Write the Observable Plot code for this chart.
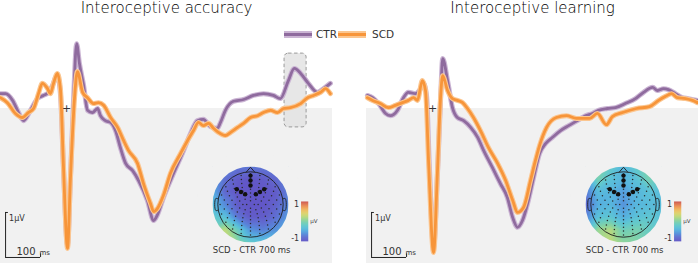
<!DOCTYPE html>
<html>
<head>
<meta charset="utf-8">
<script src="https://cdn.jsdelivr.net/npm/d3@7"></script>
<script src="https://cdn.jsdelivr.net/npm/@observablehq/plot@0.6"></script>
<style>
  body { margin: 0; background: #fff; }
  #root { position: relative; width: 698px; height: 263px; overflow: hidden; font-family: "DejaVu Sans", sans-serif; color: #333; }
  #root > * { position: absolute; }
</style>
</head>
<body>
<div id="root"></div>
<script>
// ---------------- data ----------------
const panelTitles = ["Interoceptive accuracy", "Interoceptive learning"];
const groupNames = ["CTR", "SCD"];

// Interoceptive accuracy – CTR
const accCtrMs = [-189,-174,-154,-137,-123,-103,-83,-66,-51,-40,-31,-26,-17,-9,3,11,20,29,37,49,60,74,89,97,111,126,140,154,169,189,206,231,249,260,277,306,331,354,374,391,411,431,440,454,477,506,534,563,591,611,634,651,669,691,717,734,754];
const accCtrUv = [0.33,0.33,0.18,-0.09,-0.27,-0.04,0.22,0.29,0.36,0.51,0.69,0.73,0.29,-1.27,-3.04,-1.6,0.18,1.44,1.0,0.51,-0.04,-0.09,0,-0.16,-0.27,-0.31,-0.49,-0.87,-1.22,-1.38,-1.6,-2.04,-2.49,-2.36,-1.98,-1.44,-1.0,-0.56,-0.27,-0.24,-0.4,-0.44,-0.31,-0.04,0.16,0.2,0.29,0.33,0.29,0.22,0.62,0.89,0.78,0.56,0.36,0.44,0.56];
// Interoceptive accuracy – SCD
const accScdMs = [-189,-169,-146,-126,-109,-94,-80,-69,-54,-46,-37,-26,-17,-9,3,11,23,31,46,60,77,91,106,126,146,163,177,203,220,240,249,260,277,297,326,346,363,377,391,406,420,434,454,469,489,506,526,546,563,583,603,620,640,669,689,706,726,740,754];
const accScdUv = [0.24,0.13,-0.11,-0.2,-0.09,0,0.33,0.56,0.44,0.33,0.56,0.78,0.4,-1.22,-3.11,-1.6,0.24,0.82,0.36,0.24,0.11,0.13,0.07,-0.2,-0.42,-0.71,-0.93,-1.22,-1.67,-2.11,-2.29,-2.22,-1.93,-1.44,-1.0,-0.71,-0.49,-0.31,-0.38,-0.33,-0.44,-0.53,-0.6,-0.53,-0.42,-0.33,-0.2,-0.16,-0.09,-0.04,-0.09,0,0.02,0.11,0.24,0.29,0.36,0.44,0.33];
// Interoceptive learning – CTR
const lrnCtrMs = [-186,-171,-154,-134,-120,-100,-83,-69,-49,-34,-26,-17,-9,3,14,23,29,43,57,71,89,109,129,146,171,194,214,229,243,257,274,289,306,323,343,366,389,414,437,457,474,500,523,551,580,603,629,643,660,674,694,714,731,757];
const lrnCtrUv = [0.29,0.24,0.11,-0.11,-0.16,-0.04,0.24,0.36,0.33,0.44,0.56,0.29,-1.27,-3.09,-1.49,0.18,1.11,0.62,0.02,-0.2,-0.27,-0.42,-0.64,-0.93,-1.31,-1.67,-1.98,-2.42,-2.64,-2.49,-2.04,-1.53,-1.0,-0.78,-0.64,-0.49,-0.38,-0.27,-0.16,-0.11,-0.04,0,0.02,0.11,0.22,0.36,0.47,0.4,0.44,0.42,0.33,0.24,0.22,0.18];
// Interoceptive learning – SCD
const lrnScdMs = [-186,-171,-149,-126,-106,-86,-69,-54,-43,-29,-20,-11,3,14,23,29,43,57,71,86,100,117,137,160,186,209,229,243,260,280,294,306,326,354,383,411,449,471,497,514,543,583,620,646,666,683,700,723,743,757];
const lrnScdUv = [0.24,0.18,0.11,0.02,0.07,0.13,0.18,0.24,0.18,0.62,0.4,-1.22,-3.2,-1.44,0.24,0.73,0.4,0.22,0.18,0.13,0,-0.2,-0.49,-0.87,-1.22,-1.6,-2.04,-2.31,-2.2,-1.6,-1.16,-0.82,-0.42,-0.2,-0.16,-0.22,-0.22,-0.11,-0.36,-0.18,-0.09,0,0.04,0.18,0.27,0.33,0.24,0.22,0.18,0.13];

// highlighted window (accuracy panel)
const highlightMs = [623, 686];
const highlightUv = [-0.42, 1.22];

// scale bar
const scaleBarMs = 100;
const scaleBarUv = 1;

// topographies: SCD - CTR difference at 700 ms, 7x7 grid rows top -> bottom
const topoAxis = [-1, -2/3, -1/3, 0, 1/3, 2/3, 1];
const accTopo = [
  [-0.55,-0.65,-0.75,-0.75,-0.75,-0.7,-0.6],
  [-0.5,-0.8,-0.95,-1.0,-0.95,-0.85,-0.65],
  [-0.45,-0.85,-1.0,-1.0,-1.0,-0.95,-0.7],
  [-0.35,-0.65,-0.95,-1.0,-1.0,-0.9,-0.65],
  [-0.2,-0.3,-0.75,-0.95,-0.95,-0.8,-0.55],
  [0.0,0.25,-0.15,-0.6,-0.7,-0.6,-0.45],
  [0.05,0.2,0.05,-0.2,-0.3,-0.35,-0.35]
];
const lrnTopo = [
  [-0.35,0.0,-0.2,-0.4,-0.2,0.0,-0.3],
  [-0.55,-0.05,-0.3,-0.4,-0.3,-0.05,-0.35],
  [-0.75,-0.35,-0.4,-0.55,-0.4,-0.3,-0.35],
  [-0.85,-0.45,-0.4,-0.6,-0.4,-0.35,-0.35],
  [-0.7,-0.3,-0.25,-0.45,-0.3,-0.25,-0.3],
  [-0.4,0.1,0.2,-0.1,-0.05,-0.15,-0.2],
  [-0.2,0.1,0.25,0.05,0.0,-0.1,-0.2]
];
const topoLabel = "SCD - CTR 700 ms";
const colorbarTicks = ["1", "-1"];
const colorbarUnit = "μV";

// electrode montage (rings of sensors) and highlighted cluster
const ringRadius = [0.1, 0.2, 0.3, 0.4, 0.5, 0.6, 0.7, 0.8];
const ringCount = [4, 8, 10, 12, 14, 16, 18, 20];
const clusterX = [0, 0, 0, -0.36, -0.25, -0.14, 0.14, 0.25, 0.36];
const clusterY = [0.76, 0.63, 0.5, 0.4, 0.33, 0.27, 0.27, 0.33, 0.4];

// ---------------- style / layout ----------------
const mainColor = ["#8f6b9e", "#f7953a"];
const haloColor = ["#cbb5d4", "#fbc690"];
const bgGray = "#f1f1f1";
const topoColors = ["#5a4fc4","#5a66d0","#4a8edc","#4fb6e0","#58c8cc","#78d0a4","#b0d878","#e2d666","#f2b457","#ec834a","#c84c48"];

const W = 698, H = 263, panelW = 332;
const panelLeft = [0, 366];
const pxPerMs = 0.35, pxPerUv = 45, zeroX = 66, zeroY = 108;
const xDomain = [-zeroX / pxPerMs, (panelW - zeroX) / pxPerMs];
const yDomain = [-(H - zeroY) / pxPerUv, zeroY / pxPerUv];

const root = document.getElementById("root");

function panel(i) {
  const series = i === 0
    ? [[accCtrMs, accCtrUv], [accScdMs, accScdUv]]
    : [[lrnCtrMs, lrnCtrUv], [lrnScdMs, lrnScdUv]];
  const marks = [
    Plot.rect([{x1: xDomain[0], x2: xDomain[1], y1: yDomain[0], y2: 0}], {x1: "x1", x2: "x2", y1: "y1", y2: "y2", fill: bgGray})
  ];
  if (i === 0) {
    marks.push(Plot.rect([{x1: highlightMs[0], x2: highlightMs[1], y1: highlightUv[0], y2: highlightUv[1]}],
      {x1: "x1", x2: "x2", y1: "y1", y2: "y2", fill: "#e3e3e3", fillOpacity: 0.85, stroke: "#9a9a9a", strokeDasharray: "3.5,2.5", strokeWidth: 1, rx: 4}));
  }
  series.forEach(([ms, uv], g) => {
    const d = ms.map((t, k) => ({t, v: uv[k]}));
    marks.push(Plot.line(d, {x: "t", y: "v", stroke: haloColor[g], strokeWidth: 5, curve: "monotone-x", strokeLinejoin: "round"}));
    marks.push(Plot.line(d, {x: "t", y: "v", stroke: mainColor[g], strokeWidth: 2.8, curve: "monotone-x", strokeLinejoin: "round"}));
  });
  // origin marker
  marks.push(Plot.text([{t: 0, v: 0, s: "+"}], {x: "t", y: "v", text: "s", fontSize: 11, fill: "#333"}));
  // scale bars
  const sx = xDomain[0] + 14.5, sy = yDomain[0] + 0.134;
  marks.push(Plot.ruleX([{x: sx, y1: sy, y2: sy + scaleBarUv}], {x: "x", y1: "y1", y2: "y2", stroke: "#222", strokeWidth: 1}));
  marks.push(Plot.ruleY([{y: sy, x1: sx, x2: sx + scaleBarMs}], {y: "y", x1: "x1", x2: "x2", stroke: "#222", strokeWidth: 1}));
  marks.push(Plot.ruleY([{y: sy + scaleBarUv, x1: sx, x2: sx + 8}], {y: "y", x1: "x1", x2: "x2", stroke: "#222", strokeWidth: 1}));
  marks.push(Plot.ruleX([{x: sx + scaleBarMs, y1: sy, y2: sy + 0.08}], {x: "x", y1: "y1", y2: "y2", stroke: "#222", strokeWidth: 1}));
  marks.push(Plot.text([{x: sx + 10, y: sy + 0.87, s: scaleBarUv + "μV"}], {x: "x", y: "y", text: "s", textAnchor: "start", fontSize: 8, fill: "#333"}));
  marks.push(Plot.text([{x: sx + 31, y: sy + 0.06, s: String(scaleBarMs)}], {x: "x", y: "y", text: "s", textAnchor: "start", lineAnchor: "bottom", fontSize: 10, fill: "#333"}));
  marks.push(Plot.text([{x: sx + 97, y: sy + 0.06, s: "ms"}], {x: "x", y: "y", text: "s", textAnchor: "start", lineAnchor: "bottom", fontSize: 7, fill: "#333"}));
  // title
  marks.push(Plot.text([panelTitles[i]], {frameAnchor: "top", text: d => d, dy: 8, lineAnchor: "middle", fontSize: 15, fontWeight: 300, fill: "#000"}));

  const svg = Plot.plot({
    width: panelW, height: H, margin: 0,
    x: {domain: xDomain, axis: null},
    y: {domain: yDomain, axis: null},
    style: {background: "transparent", fontFamily: "DejaVu Sans, sans-serif", overflow: "visible"},
    marks
  });
  svg.style.left = panelLeft[i] + "px";
  svg.style.top = "0px";
  root.appendChild(svg);
}

// topography
const topoPx = 38, topoW = 120, topoH = 96, topoCx = 45, topoCy = 44;
const topoCenters = [[250, 204], [623, 204]];
function electrodes() {
  const out = [];
  ringRadius.forEach((r, k) => {
    const n = ringCount[k];
    for (let j = 0; j < n; ++j) {
      const a = Math.PI / 2 + (2 * Math.PI * j) / n;
      out.push({x: r * Math.cos(a), y: r * Math.sin(a)});
    }
  });
  return out;
}
function topo(i) {
  const grid = i === 0 ? accTopo : lrnTopo;
  const cells = [];
  grid.forEach((row, r) => row.forEach((v, c) => cells.push({x: topoAxis[c], y: topoAxis[6 - r], v})));
  const cluster = clusterX.map((x, k) => ({x, y: clusterY[k]}));
  const cbX = [1.33, 1.52], cbY = [-0.97, 0.08];
  const head = 0.86;
  const nose = [{x: -0.11, y: head - 0.005}, {x: 0, y: 0.98}, {x: 0.11, y: head - 0.005}];
  const earL = [{x: -0.855, y: 0.15}, {x: -0.91, y: 0.16}, {x: -0.935, y: 0.1}, {x: -0.935, y: -0.1}, {x: -0.91, y: -0.16}, {x: -0.855, y: -0.15}];
  const earR = earL.map(p => ({x: -p.x, y: p.y}));
  const svg = Plot.plot({
    width: topoW, height: topoH, margin: 0,
    x: {domain: [-topoCx / topoPx, (topoW - topoCx) / topoPx], axis: null},
    y: {domain: [-(topoH - topoCy) / topoPx, topoCy / topoPx], axis: null},
    color: {type: "linear", domain: [-1, 1], interpolate: d3.interpolateRgbBasis(topoColors)},
    style: {background: "transparent", fontFamily: "DejaVu Sans, sans-serif", overflow: "visible"},
    marks: [
      Plot.raster(cells, {x: "x", y: "y", fill: "v", interpolate: "barycentric", x1: -1, x2: 1, y1: -1, y2: 1, pixelSize: 1, opacity: 0.95}),
      Plot.dot([{x: 0, y: 0}], {x: "x", y: "y", r: 46, fill: "none", stroke: bgGray, strokeWidth: 16}),
      Plot.dot([{x: 0, y: 0}], {x: "x", y: "y", r: head * topoPx, fill: "none", stroke: "#1e1e1e", strokeWidth: 0.9}),
      Plot.line(nose, {x: "x", y: "y", stroke: "#1e1e1e", strokeWidth: 0.9}),
      Plot.line(earL, {x: "x", y: "y", stroke: "#1e1e1e", strokeWidth: 0.9, curve: "catmull-rom"}),
      Plot.line(earR, {x: "x", y: "y", stroke: "#1e1e1e", strokeWidth: 0.9, curve: "catmull-rom"}),
      Plot.dot(electrodes(), {x: "x", y: "y", r: 0.75, fill: "#2a2a2a"}),
      Plot.dot(cluster, {x: "x", y: "y", r: 2.2, fill: "#111"}),
      Plot.raster({fill: (x, y) => -1 + 2 * (y - cbY[0]) / (cbY[1] - cbY[0]), x1: cbX[0], x2: cbX[1], y1: cbY[0], y2: cbY[1], pixelSize: 1, opacity: 0.92}),
      Plot.text([{x: cbX[0] - 0.05, y: cbY[1] - 0.08, s: colorbarTicks[0]}], {x: "x", y: "y", text: "s", textAnchor: "end", fontSize: 8, fill: "#333"}),
      Plot.text([{x: cbX[0] - 0.05, y: cbY[0] + 0.08, s: colorbarTicks[1]}], {x: "x", y: "y", text: "s", textAnchor: "end", fontSize: 8, fill: "#333"}),
      Plot.text([{x: cbX[1] + 0.05, y: (cbY[0] + cbY[1]) / 2, s: colorbarUnit}], {x: "x", y: "y", text: "s", textAnchor: "start", fontSize: 5.5, fill: "#444"}),
      Plot.text([{x: 0.03, y: -1.2, s: topoLabel}], {x: "x", y: "y", text: "s", fontSize: 8.5, fill: "#333"})
    ]
  });
  svg.style.left = (topoCenters[i][0] - topoCx) + "px";
  svg.style.top = (topoCenters[i][1] - topoCy) + "px";
  root.appendChild(svg);
}

panel(0); panel(1);
topo(0); topo(1);

// legend
const legendSwatchX = [284, 338], legendTextX = [316, 372], legendY = 34;
groupNames.forEach((name, g) => {
  const sw = document.createElement("div");
  sw.style.cssText = `left:${legendSwatchX[g]}px;top:${legendY - 3.5}px;width:28px;height:7px;background:${haloColor[g]};`;
  const inner = document.createElement("div");
  inner.style.cssText = `margin-top:2px;height:3px;background:${mainColor[g]};`;
  sw.appendChild(inner);
  root.appendChild(sw);
  const tx = document.createElement("div");
  tx.textContent = name;
  tx.style.cssText = `left:${legendTextX[g]}px;top:${legendY - 7}px;font-size:10.5px;line-height:14px;color:#333;`;
  root.appendChild(tx);
});
</script>
</body>
</html>
